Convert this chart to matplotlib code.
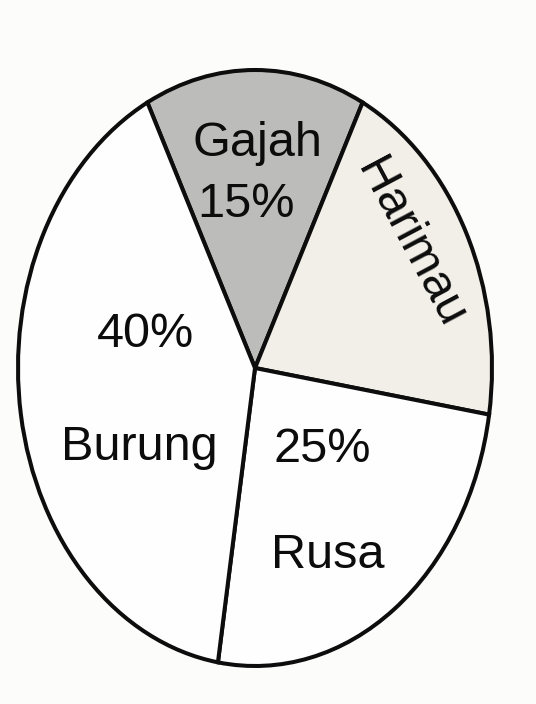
import numpy as np
import matplotlib.pyplot as plt

# data
animals = ['Gajah', 'Harimau', 'Rusa', 'Burung']
percent = [15, 20, 25, 40]
shown_pct = ['15%', '', '25%', '40%']
colors = ['#bcbcba', '#f2efe9', '#fefefe', '#fefefe']

plt.rcParams['font.family'] = ['Liberation Sans', 'DejaVu Sans']

fig = plt.figure(figsize=(5.36, 7.04), dpi=100, facecolor='#fcfcfb')
ax = fig.add_axes([0, 0, 1, 1])
ax.set_facecolor('#fcfcfb')

# pie is drawn with radius 1; unequal axis scales squash it into an ellipse
cx, cy, rx, ry = 255, 368, 237, 298

wedges, _ = ax.pie(percent, colors=colors, startangle=117, counterclock=False,
                   wedgeprops=dict(edgecolor='#0d0d0d', linewidth=2.9))
ax.set_aspect('auto')
ax.set_xlim(-cx / rx, (536 - cx) / rx)
ax.set_ylim(-(704 - cy) / ry, cy / ry)


def px(x, y):
    # pixel position of the reference -> pie coordinates
    return (x - cx) / rx, (cy - y) / ry


fs = 35
txt = dict(fontsize=fs, color='#0c0c0c', ha='center', va='baseline')

ax.text(*px(257, 156), animals[0], **txt)
ax.text(*px(246, 217), shown_pct[0], **txt)
ax.text(*px(410, 243), animals[1], fontsize=fs, color='#0c0c0c', ha='center',
        va='center', rotation=-62, rotation_mode='anchor')
ax.text(*px(322, 462), shown_pct[2], **txt)
ax.text(*px(328, 568), animals[2], **txt)
ax.text(*px(146, 347), shown_pct[3], **txt)
ax.text(*px(139, 460), animals[3], **txt)

ax.axis('off')
fig.savefig('out.png', dpi=100, facecolor=fig.get_facecolor())
